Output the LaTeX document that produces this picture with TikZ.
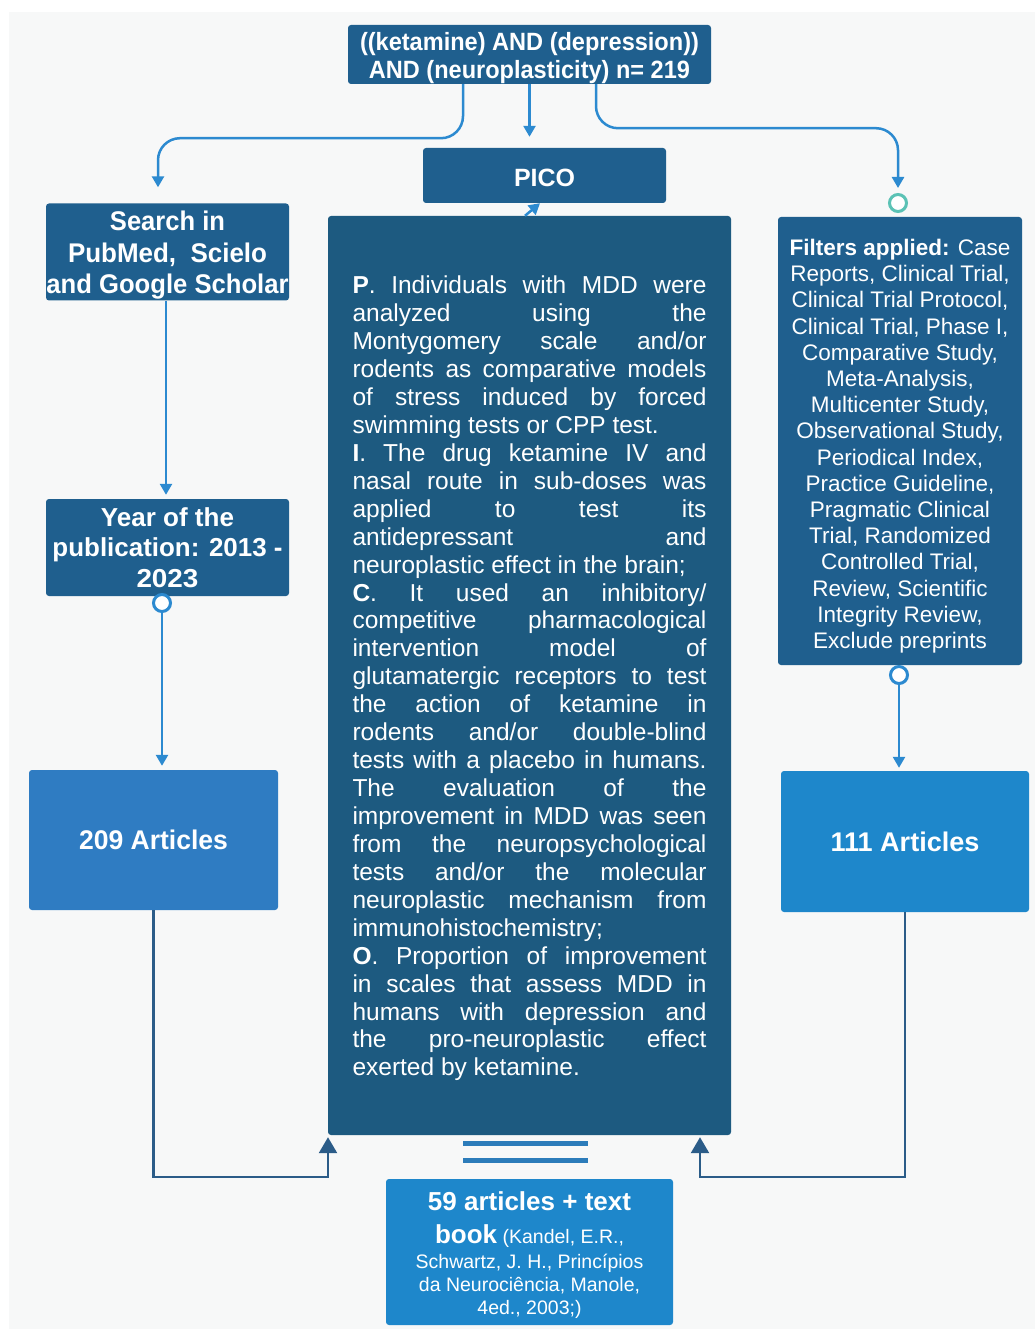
\documentclass[tikz,border=0pt]{standalone}
\usepackage{fontspec}
\setmainfont{Liberation Sans}
\usetikzlibrary{arrows.meta,calc}
\definecolor{bg}{HTML}{F7F8F8}
\definecolor{dblue}{HTML}{1F5F8E}
\definecolor{pblue}{HTML}{1D5A80}
\definecolor{mblue}{HTML}{2F7CC2}
\definecolor{lblue}{HTML}{1E87CB}
\definecolor{conncol}{HTML}{2C8AD0}
\definecolor{dconncol}{HTML}{2B5C88}
\definecolor{tealc}{HTML}{5BC2B5}
\newcommand\jline[1]{\makebox[354pt][s]{#1}\\}
\newcommand\fw[2]{\resizebox{#1pt}{\height}{#2}}
\newcommand\lift[1]{\rule{0pt}{#1pt}}
\begin{document}
\begin{tikzpicture}[x=1pt,y=-1pt,
  box/.style={rectangle, rounded corners=3pt, text=white, inner sep=0pt, align=center},
  conn/.style={draw=conncol, line width=2.5pt, -{Triangle[length=11pt,width=12pt]}},
  dconn/.style={draw=dconncol, line width=2.5pt, -{Triangle[length=16pt,width=18pt]}},
  ring/.style={circle, line width=3pt, fill=white, minimum size=17pt, inner sep=0pt}]
\useasboundingbox (0,0) rectangle (1035,1329);
\fill[white] (0,0) rectangle (1035,1329);
\fill[bg] (9,12) rectangle (1035,1329);

% boxes
\node[box, fill=dblue, minimum width=363pt, minimum height=59pt,
  font={\fontsize{25}{28}\selectfont\bfseries}] (top) at (529.5,54.5)
  {\lift{25}\fw{339}{((ketamine) AND (depression))}\\\fw{321}{AND (neuroplasticity) n= 219}};
\node[box, fill=dblue, minimum width=243pt, minimum height=55pt,
  font={\fontsize{25}{28}\selectfont\bfseries}] (pico) at (544.5,175.5)
  {\lift{22}\fw{61}{PICO}};
\node[box, fill=dblue, minimum width=243pt, minimum height=97pt,
  font={\fontsize{27}{31.5}\selectfont\bfseries}] (search) at (167.5,252)
  {\lift{26.5}\fw{115}{Search in}\\\fw{199}{PubMed,\ \ Scielo}\\\fw{242}{and Google Scholar}};
\node[box, fill=dblue, minimum width=243pt, minimum height=97pt,
  font={\fontsize{26}{30.5}\selectfont\bfseries}] (year) at (167.5,547.5)
  {\fw{133}{Year of the}\\\fw{230}{publication: 2013 -}\\\fw{62}{2023}};
\node[box, fill=pblue, minimum width=403pt, minimum height=919pt] (big) at (529.5,675.5)
  {\begin{minipage}{354pt}\fontsize{24.5}{27.93}\selectfont\setlength\parindent{0pt}%
  \vspace*{6pt}%
  \jline{\textbf{P}. Individuals with MDD were}
  \jline{analyzed using the}
  \jline{Montygomery scale and/or}
  \jline{rodents as comparative models}
  \jline{of stress induced by forced}
  swimming tests or CPP test.\\
  \jline{\textbf{I}. The drug ketamine IV and}
  \jline{nasal route in sub-doses was}
  \jline{applied to test its}
  \jline{antidepressant and}
  neuroplastic effect in the brain;\\
  \jline{\textbf{C}. It used an inhibitory/}
  \jline{competitive pharmacological}
  \jline{intervention model of}
  \jline{glutamatergic receptors to test}
  \jline{the action of ketamine in}
  \jline{rodents and/or double-blind}
  \jline{tests with a placebo in humans.}
  \jline{The evaluation of the}
  \jline{improvement in MDD was seen}
  \jline{from the neuropsychological}
  \jline{tests and/or the molecular}
  \jline{neuroplastic mechanism from}
  immunohistochemistry;\\
  \jline{\textbf{O}. Proportion of improvement}
  \jline{in scales that assess MDD in}
  \jline{humans with depression and}
  \jline{the pro-neuroplastic effect}
  exerted by ketamine.
  \end{minipage}};
\node[box, fill=dblue, minimum width=244pt, minimum height=448pt,
  font={\fontsize{22.5}{26.2}\selectfont}] (filt) at (900,441)
  {\lift{26.5}\textbf{Filters applied:} Case\\Reports, Clinical Trial,\\Clinical Trial Protocol,\\Clinical Trial, Phase I,\\Comparative Study,\\Meta-Analysis,\\Multicenter Study,\\Observational Study,\\Periodical Index,\\Practice Guideline,\\Pragmatic Clinical\\Trial, Randomized\\Controlled Trial,\\Review, Scientific\\Integrity Review,\\Exclude preprints};
\node[box, fill=mblue, minimum width=249pt, minimum height=140pt,
  font={\fontsize{27}{30}\selectfont\bfseries}] (a209) at (153.5,840)
  {\fw{149}{209 Articles}};
\node[box, fill=lblue, minimum width=248pt, minimum height=141pt,
  font={\fontsize{27}{30}\selectfont\bfseries}] (a111) at (905,841.5)
  {\fw{149}{111 Articles}};
\node[box, fill=lblue, minimum width=287pt, minimum height=146pt,
  font={\fontsize{19.5}{23}\selectfont}] (final) at (529.5,1252)
  {{\fontsize{26}{30}\selectfont\bfseries\lift{26}59 articles + text}\\[10pt]
   {\fontsize{26}{30}\selectfont\bfseries book} (Kandel, E.R.,\\[2pt]
   Schwartz, J. H., Princípios\\da Neurociência, Manole,\\4ed., 2003;)};

% rings
\node[ring, draw=tealc] (c1) at (898,203) {};
\node[ring, draw=conncol] (c2) at (162,603) {};
\node[ring, draw=conncol] (c3) at (899,675) {};

% connectors from top
\draw[conn, rounded corners=22pt] ([xshift=-66.5pt]top.south) -- ++(0,54) -| ([xshift=-9.5pt,yshift=16pt]search.north);
\draw[conn] (top.south) -- ([yshift=11pt]pico.north -| top.south);
\draw[conn, rounded corners=22pt] ([xshift=66.5pt]top.south) -- ++(0,44) -| ([yshift=5pt]c1.north);
\draw[conn] ([xshift=-4.5pt]big.north) -- ([xshift=-4.5pt]pico.south);

% vertical chains
\draw[conn] ([xshift=-1.5pt]search.south) -- ([xshift=-1.5pt,yshift=4pt]year.north);
\draw[conn] (c2.south) -- ([xshift=8.5pt,yshift=4pt]a209.north);
\draw[conn] (c3.south) -- ([xshift=-6pt,yshift=3pt]a111.north);

% bottom connectors
\coordinate (jl) at (328,1177);
\coordinate (jr) at (700,1177);
\draw[dconn] (a209.south) |- (jl) -- ([yshift=-2pt]big.south -| jl);
\draw[dconn] (a111.south) |- (jr) -- ([yshift=-2pt]big.south -| jr);

% double bar
\draw[draw=conncol!70!dconncol, line width=5pt] (463,1143) -- (588,1143);
\draw[draw=conncol!70!dconncol, line width=5pt] (463,1160) -- (588,1160);
\end{tikzpicture}
\end{document}
